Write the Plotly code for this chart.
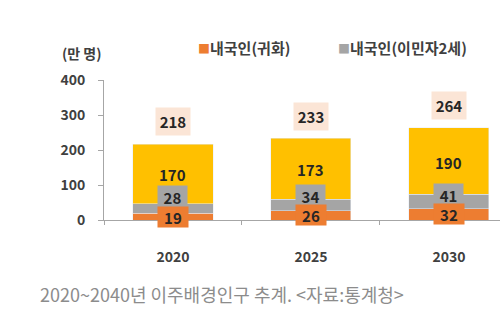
import plotly.graph_objects as go

years = ["2020", "2025", "2030"]
naturalized = [19, 26, 32]
second_gen = [28, 34, 41]
foreign = [170, 173, 190]
totals = [218, 233, 264]
legend_names = ["내국인(귀화)", "내국인(이민자2세)"]

ORANGE = "#ED7D31"
GRAY = "#A5A5A5"
YELLOW = "#FFC000"
PINK = "#FBE5D6"
TXT = "#262626"
FONT = "Noto Sans CJK KR"

fig = go.Figure()
fig.add_bar(x=years, y=naturalized, name=legend_names[0], marker_color=ORANGE, width=0.58)
fig.add_bar(x=years, y=second_gen, name=legend_names[1], marker_color=GRAY, width=0.58)
fig.add_bar(x=years, y=foreign, name="외국인", marker_color=YELLOW, width=0.58)

ann = []
for i, yr in enumerate(years):
    o, g, f, t = naturalized[i], second_gen[i], foreign[i], totals[i]
    ann.append(dict(x=i, y=t, text=f"<b>{t}</b>", showarrow=False, yshift=22,
                    bgcolor=PINK, width=34, height=27, borderpad=0,
                    font=dict(size=15, color=TXT, family=FONT)))
    ann.append(dict(x=i, y=o + g + f / 2, text=f"<b>{f}</b>", showarrow=False, yshift=-1,
                    font=dict(size=15, color=TXT, family=FONT)))
    ann.append(dict(x=i, y=o / 2, text=f"<b>{g}</b>", showarrow=False, yshift=19.5,
                    bgcolor=GRAY, width=29, height=22, borderpad=0,
                    font=dict(size=15, color=TXT, family=FONT)))
    ann.append(dict(x=i, y=o / 2, text=f"<b>{o}</b>", showarrow=False, yshift=0,
                    bgcolor=ORANGE, width=30, height=20, borderpad=0,
                    font=dict(size=15, color=TXT, family=FONT)))

# legend entries
for xp, col, name in [(0.233, ORANGE, legend_names[0]), (0.586, GRAY, legend_names[1])]:
    ann.append(dict(xref="paper", yref="paper", x=xp, y=1.235, xanchor="left", yanchor="middle",
                    text=f"<span style='color:{col};font-size:12px'>■</span><b>{name}</b>",
                    showarrow=False, font=dict(size=15, color="#404040", family=FONT)))

ann.append(dict(xref="paper", yref="paper", x=-0.111, y=1.193, xanchor="left", yanchor="middle",
                text="<b>(만 명)</b>", showarrow=False, font=dict(size=14, color="#404040", family=FONT)))
ann.append(dict(xref="paper", yref="paper", x=-0.1667, y=-0.529, xanchor="left", yanchor="middle",
                text="2020~2040년 이주배경인구 추계. <자료:통계청>", showarrow=False,
                font=dict(size=18, color="#8C8C8C", family=FONT)))

fig.update_layout(
    width=500, height=334,
    margin=dict(l=104, r=0, t=80, b=114),
    barmode="stack",
    plot_bgcolor="white", paper_bgcolor="white",
    font=dict(family=FONT, color="#404040"),
    annotations=ann,
    showlegend=False,
)
fig.update_yaxes(range=[0, 400], dtick=100, showgrid=False, zeroline=False,
                 showline=True, linecolor="#A6A6A6", linewidth=1,
                 ticks="outside", ticklen=5, tickcolor="#A6A6A6",
                 ticklabelstandoff=10,
                 tickfont=dict(size=14, color="#404040", family=FONT), tickprefix="<b>", ticksuffix="</b>")
fig.update_xaxes(type="category", range=[-0.5, 2.37], showgrid=False, showline=True,
                 linecolor="#A6A6A6", linewidth=1,
                 ticks="outside", ticklen=4, tickcolor="#A6A6A6", tickson="boundaries",
                 ticklabelstandoff=24,
                 tickfont=dict(size=14, color="#404040", family=FONT), tickprefix="<b>", ticksuffix="</b>")

fig.write_html("out.html")
